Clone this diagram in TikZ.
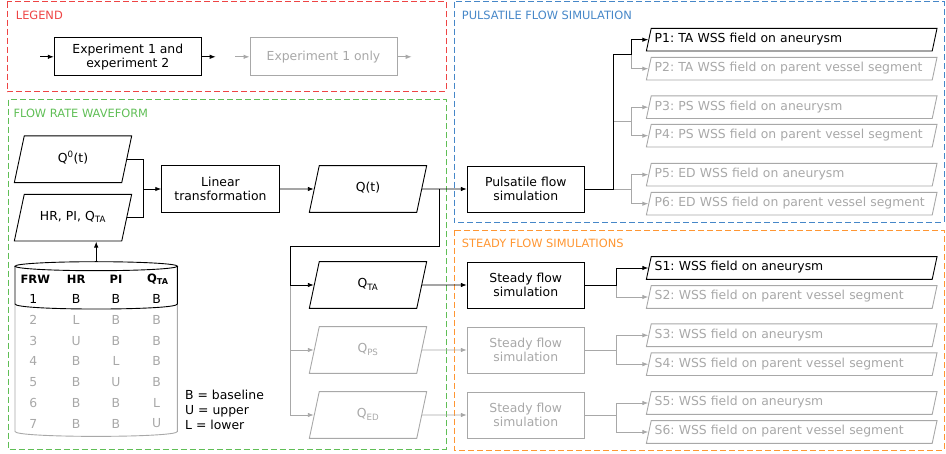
\documentclass[tikz,border=0pt]{standalone}
\usepackage{fontspec}
\setmainfont{DejaVu Sans}
\usepackage{tikz}
\usetikzlibrary{shapes,arrows.meta,positioning}
\usepackage{xcolor}

\definecolor{legendred}{RGB}{238,68,68}
\definecolor{flowgreen}{RGB}{95,190,85}
\definecolor{pulseblue}{RGB}{70,135,200}
\definecolor{steadyorange}{RGB}{255,150,50}
\definecolor{greyc}{RGB}{168,168,168}

\tikzset{
  procbox/.style={draw, line width=0.9pt, minimum width=117pt, minimum height=46pt, align=center, inner sep=0pt},
  databox/.style={trapezium, trapezium left angle=78, trapezium right angle=102, draw, line width=0.9pt, text width=97.5pt, align=center, text height=9pt, text depth=3pt, inner xsep=0pt, inner ysep=17.35pt},
  outbox/.style={trapezium, trapezium left angle=78, trapezium right angle=102, draw, line width=0.9pt, text width=274pt, align=left, text height=9pt, text depth=3pt, inner xsep=3.5pt, inner ysep=5.35pt},
  faded/.style={draw=greyc, text=greyc},
  flow/.style={-{Latex[length=6pt,width=4.5pt]}, line width=0.9pt},
  fadedflow/.style={flow, draw=greyc},
  plainline/.style={line width=0.9pt},
  fadedline/.style={line width=0.9pt, draw=greyc},
  frame/.style={dash pattern=on 6pt off 3pt, line width=0.9pt},
  title/.style={anchor=west, inner sep=0pt, font=\fontsize{11.4}{13}\selectfont},
  dbhead/.style={font=\fontsize{11.5}{13}\selectfont\bfseries, inner sep=0pt},
  dbcell/.style={inner sep=0pt}
}

\begin{document}
\begin{tikzpicture}[x=1pt, y=-1pt, font=\fontsize{12.4}{14.4}\selectfont\frenchspacing]
  \useasboundingbox (0,0) rectangle (946,454);

  % frames
  \draw[frame, draw=legendred] (7.3,1.7) rectangle (446,91.7);
  \draw[frame, draw=flowgreen] (8,99.7) rectangle (446,449);
  \draw[frame, draw=pulseblue] (454,1.7) rectangle (944,222.3);
  \draw[frame, draw=steadyorange] (454,230) rectangle (944,450);
  \node[title, text=legendred] (legtitle) at (15.7,15.7) {LEGEND};
  \node[title, text=flowgreen] (flowtitle) at (13.3,113) {FLOW RATE WAVEFORM};
  \node[title, text=pulseblue] (pulsetitle) at (461.7,15.7) {PULSATILE FLOW SIMULATION};
  \node[title, text=steadyorange] (steadytitle) at (461.7,243.3) {STEADY FLOW SIMULATIONS};

  % legend
  \node[procbox, minimum width=147pt, minimum height=38.3pt] (legboth) at (127.8,56.8) {Experiment 1 and\\experiment 2};
  \node[procbox, faded, minimum width=147pt, minimum height=38.3pt] (legone) at (323.5,56.8) {Experiment 1 only};
  \coordinate (legbothin) at (40,56.8);
  \coordinate (legbothout) at (215.7,56.8);
  \coordinate (legonein) at (235,56.8);
  \coordinate (legoneout) at (411.7,56.8);
  \draw[flow] (legbothin) -- (legboth);
  \draw[flow] (legboth) -- (legbothout);
  \draw[fadedflow] (legonein) -- (legone);
  \draw[fadedflow] (legone) -- (legoneout);

  % flow rate waveform
  \node[databox] (q0) at (73,159.3) {Q\textsuperscript{0}(t)};
  \node[databox] (hrpiq) at (73,217.7) {HR, PI, Q\textsubscript{TA}};
  \node[procbox, minimum width=117.6pt, minimum height=46.6pt] (lintrans) at (220.5,189) {Linear\\transformation};
  \node[databox] (qt) at (368,189) {Q(t)};
  \node[databox] (qta) at (368,285) {Q\textsubscript{TA}};
  \node[databox, faded] (qps) at (368,350) {Q\textsubscript{PS}};
  \node[databox, faded] (qed) at (368,415) {Q\textsubscript{ED}};

  \coordinate (qjoin) at (143.7,189);
  \draw[plainline] (q0) -| (qjoin);
  \draw[plainline] (hrpiq) -| (qjoin);
  \draw[flow] (qjoin) -- (lintrans);
  \draw[flow] (lintrans) -- (qt);

  % database of waveforms
  \draw[fadedline] (15,304) -- (15,431.5) .. controls (15,438) and (177.4,438) .. (177.4,431.5) -- (177.4,304);
  \draw[plainline] (96.2,266.2) ellipse [x radius=81.2, y radius=4.5];
  \draw[plainline] (15,266.2) -- (15,304) .. controls (15,310.7) and (177.4,310.7) .. (177.4,304) -- (177.4,266.2);
  \coordinate (dbtop) at (96.2,261.7);
  \draw[flow] (dbtop) -- (dbtop |- hrpiq.south);

  \node[dbhead] (hfrw) at (35.3,279.5) {FRW};
  \node[dbhead] (hhr) at (76.2,279.5) {HR};
  \node[dbhead] (hpi) at (116,279.5) {PI};
  \node[dbhead] (hqta) at (157.8,279.5) {Q\textsubscript{TA}};
  \node[dbcell] (frw1) at (33.3,299.3) {1};
  \node[dbcell] (hr1) at (76.2,299.3) {B};
  \node[dbcell] (pi1) at (116,299.3) {B};
  \node[dbcell] (qta1) at (156.7,299.3) {B};
  \foreach \n/\vhr/\vpi/\vq [count=\k] in {2/L/B/B,3/U/B/B,4/B/L/B,5/B/U/B,6/B/B/L,7/B/B/U} {
    \node[dbcell, text=greyc] (frw\n) at (33.3,{299.3+20.7*\k}) {\n};
    \node[dbcell, text=greyc] (hr\n) at (76.2,{299.3+20.7*\k}) {\vhr};
    \node[dbcell, text=greyc] (pi\n) at (116,{299.3+20.7*\k}) {\vpi};
    \node[dbcell, text=greyc] (qta\n) at (156.7,{299.3+20.7*\k}) {\vq};
  }
  \node[anchor=west, align=left, inner sep=0pt, font=\fontsize{12.4}{15.3}\selectfont] (levels) at (185,409.7) {B = baseline\\U = upper\\L = lower};

  % pulsatile flow simulation
  \node[procbox] (pulse) at (525.8,189) {Pulsatile flow\\simulation};
  \draw[flow] (qt) -- (pulse);

  \node[outbox] (p1) at (791.7,39.7) {P1: TA WSS field on aneurysm};
  \node[outbox, faded] (p2) at (791.7,68.7) {P2: TA WSS field on parent vessel segment};
  \node[outbox, faded] (p3) at (791.7,107.2) {P3: PS WSS field on aneurysm};
  \node[outbox, faded] (p4) at (791.7,135.7) {P4: PS WSS field on parent vessel segment};
  \node[outbox, faded] (p5) at (791.7,174.7) {P5: ED WSS field on aneurysm};
  \node[outbox, faded] (p6) at (791.7,203.7) {P6: ED WSS field on parent vessel segment};

  \coordinate (pbr) at (613,189);
  \coordinate (pbr1) at (631,54);
  \coordinate (pbr2a) at (613,121.5);
  \coordinate (pbr2) at (631,121.5);
  \coordinate (pbr3) at (631,189);
  \draw[fadedflow] (pbr1) |- (p2);
  \draw[fadedline] (pbr2a) -- (pbr2);
  \draw[fadedflow] (pbr2) |- (p3);
  \draw[fadedflow] (pbr2) |- (p4);
  \draw[fadedline] (pbr) -- (pbr3);
  \draw[fadedflow] (pbr3) |- (p5);
  \draw[fadedflow] (pbr3) |- (p6);
  \draw[flow] (pulse) -- (pbr) |- (pbr1) |- (p1);

  % steady flow simulations
  \node[procbox] (steady1) at (525.8,285) {Steady flow\\simulation};
  \node[procbox, faded] (steady2) at (525.8,350) {Steady flow\\simulation};
  \node[procbox, faded] (steady3) at (525.8,415) {Steady flow\\simulation};
  \coordinate (qtsplit) at (439.3,189);
  \coordinate (qtdown) at (439.3,246.7);
  \coordinate (qtleft) at (290.7,246.7);
  \draw[fadedflow] (qtleft |- qta) |- (qps);
  \draw[fadedflow] (qtleft |- qps) |- (qed);
  \draw[flow] (qtsplit) -- (qtdown) -- (qtleft) |- (qta);
  \draw[flow] (qta) -- (steady1);
  \draw[fadedflow] (qps) -- (steady2);
  \draw[fadedflow] (qed) -- (steady3);

  \node[outbox] (s1) at (791.7,268) {S1: WSS field on aneurysm};
  \node[outbox, faded] (s2) at (791.7,297) {S2: WSS field on parent vessel segment};
  \node[outbox, faded] (s3) at (791.7,335.3) {S3: WSS field on aneurysm};
  \node[outbox, faded] (s4) at (791.7,364.2) {S4: WSS field on parent vessel segment};
  \node[outbox, faded] (s5) at (791.7,403) {S5: WSS field on aneurysm};
  \node[outbox, faded] (s6) at (791.7,432) {S6: WSS field on parent vessel segment};

  \coordinate (sbr1) at (616.7,285);
  \coordinate (sbr2) at (616.7,350);
  \coordinate (sbr3) at (616.7,415);
  \draw[fadedflow] (sbr1) |- (s2);
  \draw[fadedline] (steady2) -- (sbr2);
  \draw[fadedflow] (sbr2) |- (s3);
  \draw[fadedflow] (sbr2) |- (s4);
  \draw[fadedline] (steady3) -- (sbr3);
  \draw[fadedflow] (sbr3) |- (s5);
  \draw[fadedflow] (sbr3) |- (s6);
  \draw[flow] (steady1) -- (sbr1) |- (s1);
\end{tikzpicture}
\end{document}
